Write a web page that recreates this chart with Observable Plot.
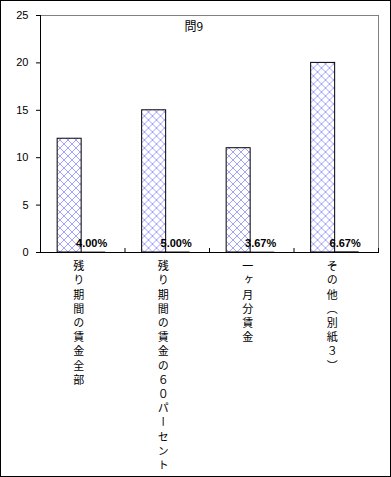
<!DOCTYPE html>
<html><head><meta charset="utf-8">
<script src="https://cdn.jsdelivr.net/npm/d3@7"></script>
<script src="https://cdn.jsdelivr.net/npm/@observablehq/plot@0.6"></script>
<style>
body{margin:0;background:#fff;}
#wrap{position:relative;width:391px;height:477px;overflow:hidden;}
#border{position:absolute;left:0;top:0;width:391px;height:477px;box-sizing:border-box;border:1px solid #000;pointer-events:none;}
text.vlabel{writing-mode:vertical-rl;letter-spacing:3.2px;}
</style>
</head><body>
<div id="wrap"><div id="chart"></div><div id="border"></div></div>
<script>
const title = "問9";
const categories = ["残り期間の賃金全部","残り期間の賃金の６０パーセント","一ヶ月分賃金","その他（別紙３）"];
const counts = [12, 15, 11, 20];
const ratios = [0.04, 0.05, 0.0367, 0.0667];
const ratioLabels = ["4.00%","5.00%","3.67%","6.67%"];
const yTicks = [0, 5, 10, 15, 20, 25];

const rows = [];
categories.forEach((c, i) => {
  rows.push({cat: c, series: "A", value: counts[i]});
  rows.push({cat: c, series: "B", value: ratios[i], label: ratioLabels[i]});
});
const catRows = categories.map(c => ({cat: c}));

const plot = Plot.plot({
  width: 391, height: 477,
  marginLeft: 40, marginRight: 13, marginTop: 15, marginBottom: 225,
  style: {fontFamily: "'Liberation Sans', Arial, sans-serif", fontSize: "11px", color: "#000", background: "transparent"},
  fx: {domain: categories, axis: null, paddingInner: 0, paddingOuter: 0, round: false},
  x: {domain: ["A","B"], axis: null, paddingInner: 0, paddingOuter: 0.76, align: 0.47, round: false},
  y: {domain: [0, 25], ticks: yTicks, tickSize: 4, tickPadding: 8, label: null, tickFormat: d => String(d)},
  marks: [
    Plot.frame({stroke: "#808080", facet: "super"}),
    Plot.barY(rows.filter(d => d.series === "A"), {fx: "cat", x: "series", y: "value", fill: "url(#hatch)", stroke: "#000", strokeWidth: 1}),
    Plot.barY(rows.filter(d => d.series === "B"), {fx: "cat", x: "series", y: "value", fill: "#000"}),
    Plot.ruleY([0], {stroke: "#000"}),
    Plot.frame({anchor: "left", stroke: "#000", facet: "super"}),
    Plot.frame({anchor: "right", stroke: "#000", insetTop: 233}),
    Plot.text(rows.filter(d => d.series === "B"), {fx: "cat", x: "series", y: "value", text: "label", lineAnchor: "bottom", dy: -5, dx: -2, fontWeight: "bold", fontSize: 11, fill: "#000"}),
    Plot.text(catRows, {fx: "cat", text: "cat", frameAnchor: "bottom", dy: 8, dx: -4, fontSize: 11, fontFamily: "'Noto Sans CJK JP', sans-serif"}),
    Plot.text([title], {facet: "super", frameAnchor: "top-left", dx: 144, dy: 7, textAnchor: "start", lineAnchor: "top", fontSize: 12, fontFamily: "'Noto Sans CJK JP', sans-serif"})
  ]
});

const svg = d3.select(plot);
const defs = svg.insert("defs", ":first-child");
const pat = defs.append("pattern").attr("id", "hatch").attr("patternUnits", "userSpaceOnUse")
  .attr("width", 8).attr("height", 8);
pat.append("rect").attr("width", 8).attr("height", 8).attr("fill", "#fff");
pat.append("path").attr("d", "M0,0L8,8M8,0L0,8").attr("stroke", "#a4a4ff").attr("stroke-width", 1).attr("fill", "none");

svg.selectAll("text").filter(function() { return categories.includes(this.textContent); })
  .attr("dy", null)
  .attr("y", null)
  .attr("text-anchor", "start")
  .classed("vlabel", true);

document.getElementById("chart").appendChild(plot);
</script>
</body></html>
